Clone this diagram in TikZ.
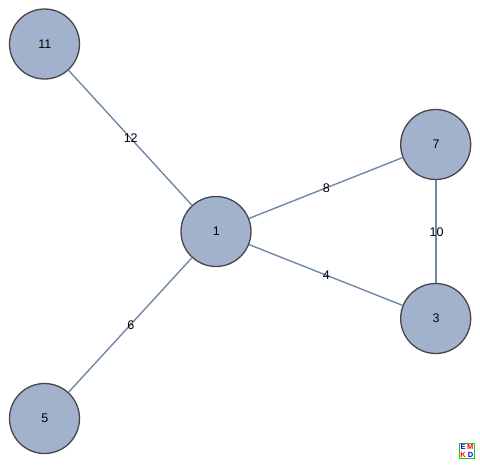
\documentclass[tikz,border=0pt]{standalone}
\usepackage{fontspec}
\setmainfont{Liberation Sans}
\definecolor{nodefill}{RGB}{163,178,204}
\definecolor{nodeedge}{RGB}{70,70,75}
\definecolor{edgecol}{RGB}{112,136,172}
\tikzset{
  vertex/.style={circle,draw=nodeedge,fill=nodefill,line width=1.3pt,minimum size=70pt,inner sep=0pt,font=\fontsize{12.5}{14}\selectfont},
  link/.style={draw=edgecol,line width=1.4pt},
  weight/.style={midway,inner sep=0pt,xshift=0.5pt,yshift=-0.4pt,font=\fontsize{12.5}{14}\selectfont},
  logo/.style={inner sep=0pt,font=\bfseries\fontsize{7.5}{8}\selectfont}
}
\begin{document}
\begin{tikzpicture}[x=1pt,y=-1pt]
\useasboundingbox (0,0) rectangle (480,464);
\node[vertex] (n11) at (44.5,44) {\kern0.8pt 11};
\node[vertex] (n7) at (435.7,144.5) {\kern0.8pt 7};
\node[vertex] (n1) at (216,231.5) {\kern0.8pt 1};
\node[vertex] (n3) at (435.7,318.5) {\kern0.8pt 3};
\node[vertex] (n5) at (44.5,418.5) {\kern0.8pt 5};
\draw[link] (n1) -- node[weight] {12} (n11);
\draw[link] (n1) -- node[weight] {8} (n7);
\draw[link] (n1) -- node[weight] {4} (n3);
\draw[link] (n1) -- node[weight] {6} (n5);
\draw[link,transform canvas={xshift=0.3pt}] (n7) -- node[weight] {10} (n3);
\draw[draw=green!85!black,line width=1.3pt,fill=white] (459.5,443.5) rectangle (474.5,458.5);
\node[logo,text=blue] (le) at (463,447.3) {E};
\node[logo,text=red] (lm) at (470.3,447.3) {M};
\node[logo,text=red] (lk) at (463.2,454.7) {K};
\node[logo,text=blue] (ld) at (470.5,454.7) {D};
\end{tikzpicture}
\end{document}
